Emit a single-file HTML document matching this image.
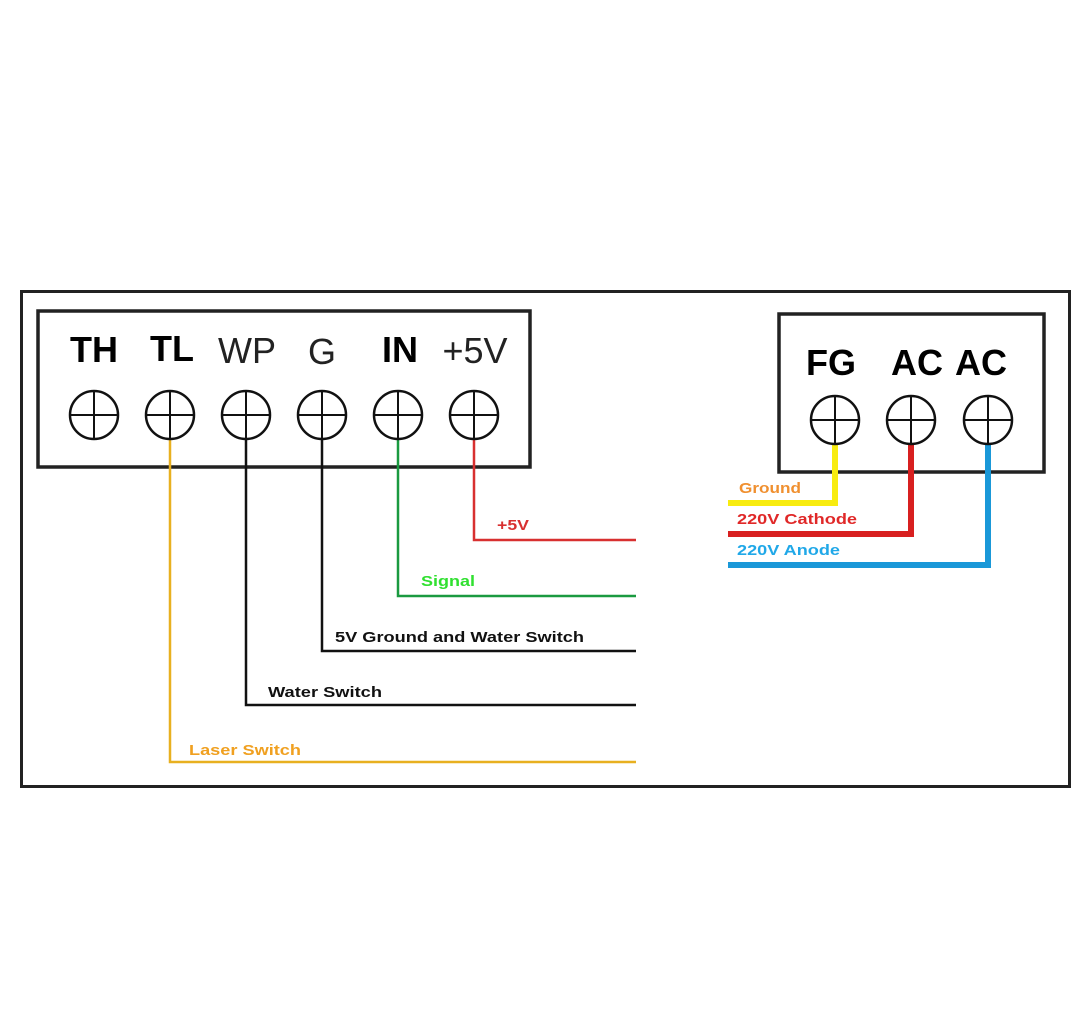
<!DOCTYPE html>
<html><head><style>
body{margin:0;background:#fff;}
svg text{font-family:"Liberation Sans",sans-serif;}
</style></head><body>
<svg width="1088" height="1020" xmlns="http://www.w3.org/2000/svg">
<rect x="0" y="0" width="1088" height="1020" fill="#fff"/>
<rect x="21.5" y="291.5" width="1048" height="495" fill="none" stroke="#222" stroke-width="3"/>
<rect x="38" y="311" width="492" height="156" fill="none" stroke="#222" stroke-width="3.5"/>
<rect x="779" y="314" width="265" height="158" fill="none" stroke="#222" stroke-width="3.5"/>
<g font-size="36" fill="#000">
<text x="94" y="362" text-anchor="middle" font-weight="bold">TH</text>
<text x="172" y="361" text-anchor="middle" font-weight="bold">TL</text>
<text x="247" y="363" text-anchor="middle" fill="#222">WP</text>
<text x="322" y="364" text-anchor="middle" fill="#222">G</text>
<text x="400" y="362" text-anchor="middle" font-weight="bold">IN</text>
<text x="475" y="363" text-anchor="middle" fill="#222">+5V</text>
<text x="831" y="375" text-anchor="middle" font-weight="bold">FG</text>
<text x="917" y="375" text-anchor="middle" font-weight="bold">AC</text>
<text x="981" y="375" text-anchor="middle" font-weight="bold">AC</text>
</g>
<g fill="none" stroke-width="2">
<polyline points="170,440 170,762 636,762" stroke="#e8b020" stroke-width="2.5"/>
<polyline points="246,440 246,705 636,705" stroke="#111" stroke-width="2.5"/>
<polyline points="322,440 322,651 636,651" stroke="#111" stroke-width="2.5"/>
<polyline points="398,440 398,596 636,596" stroke="#1a9a40" stroke-width="2.5"/>
<polyline points="474,440 474,540 636,540" stroke="#d83030" stroke-width="2.5"/>
<polyline points="835,444 835,503 728,503" stroke="#f8ec10" stroke-width="6"/>
<polyline points="911,444 911,534 728,534" stroke="#d82020" stroke-width="6"/>
<polyline points="988,444 988,565 728,565" stroke="#1a98d8" stroke-width="6"/>
</g>
<g fill="#fff" stroke="#111" stroke-width="2.5">
<circle cx="94" cy="415" r="24"/><circle cx="170" cy="415" r="24"/><circle cx="246" cy="415" r="24"/>
<circle cx="322" cy="415" r="24"/><circle cx="398" cy="415" r="24"/><circle cx="474" cy="415" r="24"/>
<circle cx="835" cy="420" r="24"/><circle cx="911" cy="420" r="24"/><circle cx="988" cy="420" r="24"/>
</g>
<g stroke="#111" stroke-width="2">
<path d="M70 415H118M94 391V439M146 415H194M170 391V439M222 415H270M246 391V439M298 415H346M322 391V439M374 415H422M398 391V439M450 415H498M474 391V439M811 420H859M835 396V444M887 420H935M911 396V444M964 420H1012M988 396V444"/>
</g>
<g font-size="15" font-weight="bold">
<text x="497" y="530" fill="#d83030" textLength="32" lengthAdjust="spacingAndGlyphs">+5V</text>
<text x="421" y="586" fill="#30e030" textLength="54" lengthAdjust="spacingAndGlyphs">Signal</text>
<text x="335" y="642" fill="#111" textLength="249" lengthAdjust="spacingAndGlyphs">5V Ground and Water Switch</text>
<text x="268" y="697" fill="#111" textLength="114" lengthAdjust="spacingAndGlyphs">Water Switch</text>
<text x="189" y="755" fill="#f0a020" textLength="112" lengthAdjust="spacingAndGlyphs">Laser Switch</text>
<text x="739" y="493" fill="#f09030" textLength="62" lengthAdjust="spacingAndGlyphs">Ground</text>
<text x="737" y="524" fill="#e02828" textLength="120" lengthAdjust="spacingAndGlyphs">220V Cathode</text>
<text x="737" y="555" fill="#20a8e8" textLength="103" lengthAdjust="spacingAndGlyphs">220V Anode</text>
</g>
</svg>
</body></html>
